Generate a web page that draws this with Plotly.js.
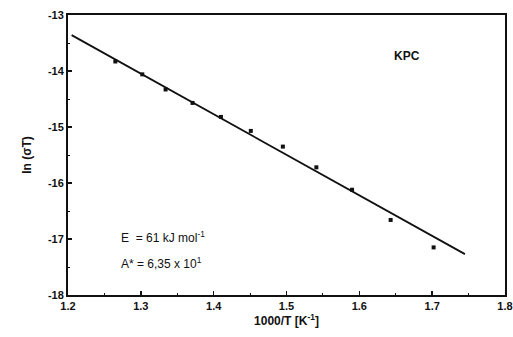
<!DOCTYPE html>
<html>
<head>
<meta charset="utf-8">
<script src="https://cdn.plot.ly/plotly-3.0.1.min.js"></script>
<style>html,body{margin:0;padding:0;background:#fff;}#chart{width:513px;height:337px;}</style>
</head>
<body>
<div id="chart"></div>
<script>
// Data
var invT = [1.265, 1.302, 1.334, 1.371, 1.410, 1.451, 1.495, 1.541, 1.590, 1.643, 1.702];
var lnSigmaT = [-13.83, -14.06, -14.33, -14.57, -14.82, -15.07, -15.35, -15.72, -16.12, -16.66, -17.15];
var fitX = [1.205, 1.745];
var fitY = [-13.36, -17.27];
var xTicks = [1.2, 1.3, 1.4, 1.5, 1.6, 1.7, 1.8];
var xTickText = ['1.2', '1.3', '1.4', '1.5', '1.6', '1.7', '1.8'];
var yTicks = [-18, -17, -16, -15, -14, -13];
var yTickText = ['-18', '-17', '-16', '-15', '-14', '-13'];

var fnt = 'Liberation Sans, Arial, sans-serif';
function bold(arr) { return arr.map(function (s) { return '<b>' + s + '</b>'; }); }

var traces = [
  {x: fitX, y: fitY, mode: 'lines', line: {color: '#111', width: 1.8}, hoverinfo: 'skip'},
  {x: invT, y: lnSigmaT, mode: 'markers', marker: {symbol: 'square', size: 4, color: '#111'}}
];

var axisCommon = {
  showgrid: false, zeroline: false, showline: true, linecolor: '#111', linewidth: 2,
  mirror: true, ticks: 'inside', ticklen: 4, tickwidth: 1.5, tickcolor: '#111',
  tickfont: {family: fnt, size: 11, color: '#111'}
};

var layout = {
  width: 513, height: 337,
  margin: {l: 68, r: 8, t: 15, b: 42},
  paper_bgcolor: '#fff', plot_bgcolor: '#fff',
  showlegend: false,
  xaxis: Object.assign({}, axisCommon, {
    range: [1.2, 1.8], tickmode: 'array', tickvals: xTicks, ticktext: bold(xTickText),
    minor: {ticks: 'inside', ticklen: 2, tickwidth: 1, tickcolor: '#111', dtick: 0.05},
    title: {text: '<b>1000/T [K<sup>-1</sup>]</b>', font: {family: fnt, size: 12, color: '#111'}, standoff: 3}
  }),
  yaxis: Object.assign({}, axisCommon, {
    range: [-18, -13], tickmode: 'array', tickvals: yTicks, ticktext: bold(yTickText),
    minor: {ticks: 'inside', ticklen: 2, tickwidth: 1, tickcolor: '#111', dtick: 0.5},
    title: {text: '<b>ln (σT)</b>', font: {family: fnt, size: 12, color: '#111'}, standoff: 14}
  }),
  annotations: [
    {x: 1.665, y: -13.74, xref: 'x', yref: 'y', text: '<b>KPC</b>', showarrow: false,
     font: {family: fnt, size: 12, color: '#111'}},
    {x: 1.27, y: -16.97, xref: 'x', yref: 'y', xanchor: 'left', text: 'E  = 61 kJ mol<sup>-1</sup>', showarrow: false,
     font: {family: fnt, size: 12, color: '#111'}},
    {x: 1.27, y: -17.42, xref: 'x', yref: 'y', xanchor: 'left', text: 'A* = 6,35 x 10<sup>1</sup>', showarrow: false,
     font: {family: fnt, size: 12, color: '#111'}}
  ]
};

Plotly.newPlot('chart', traces, layout, {displayModeBar: false, staticPlot: true});
</script>
</body>
</html>
